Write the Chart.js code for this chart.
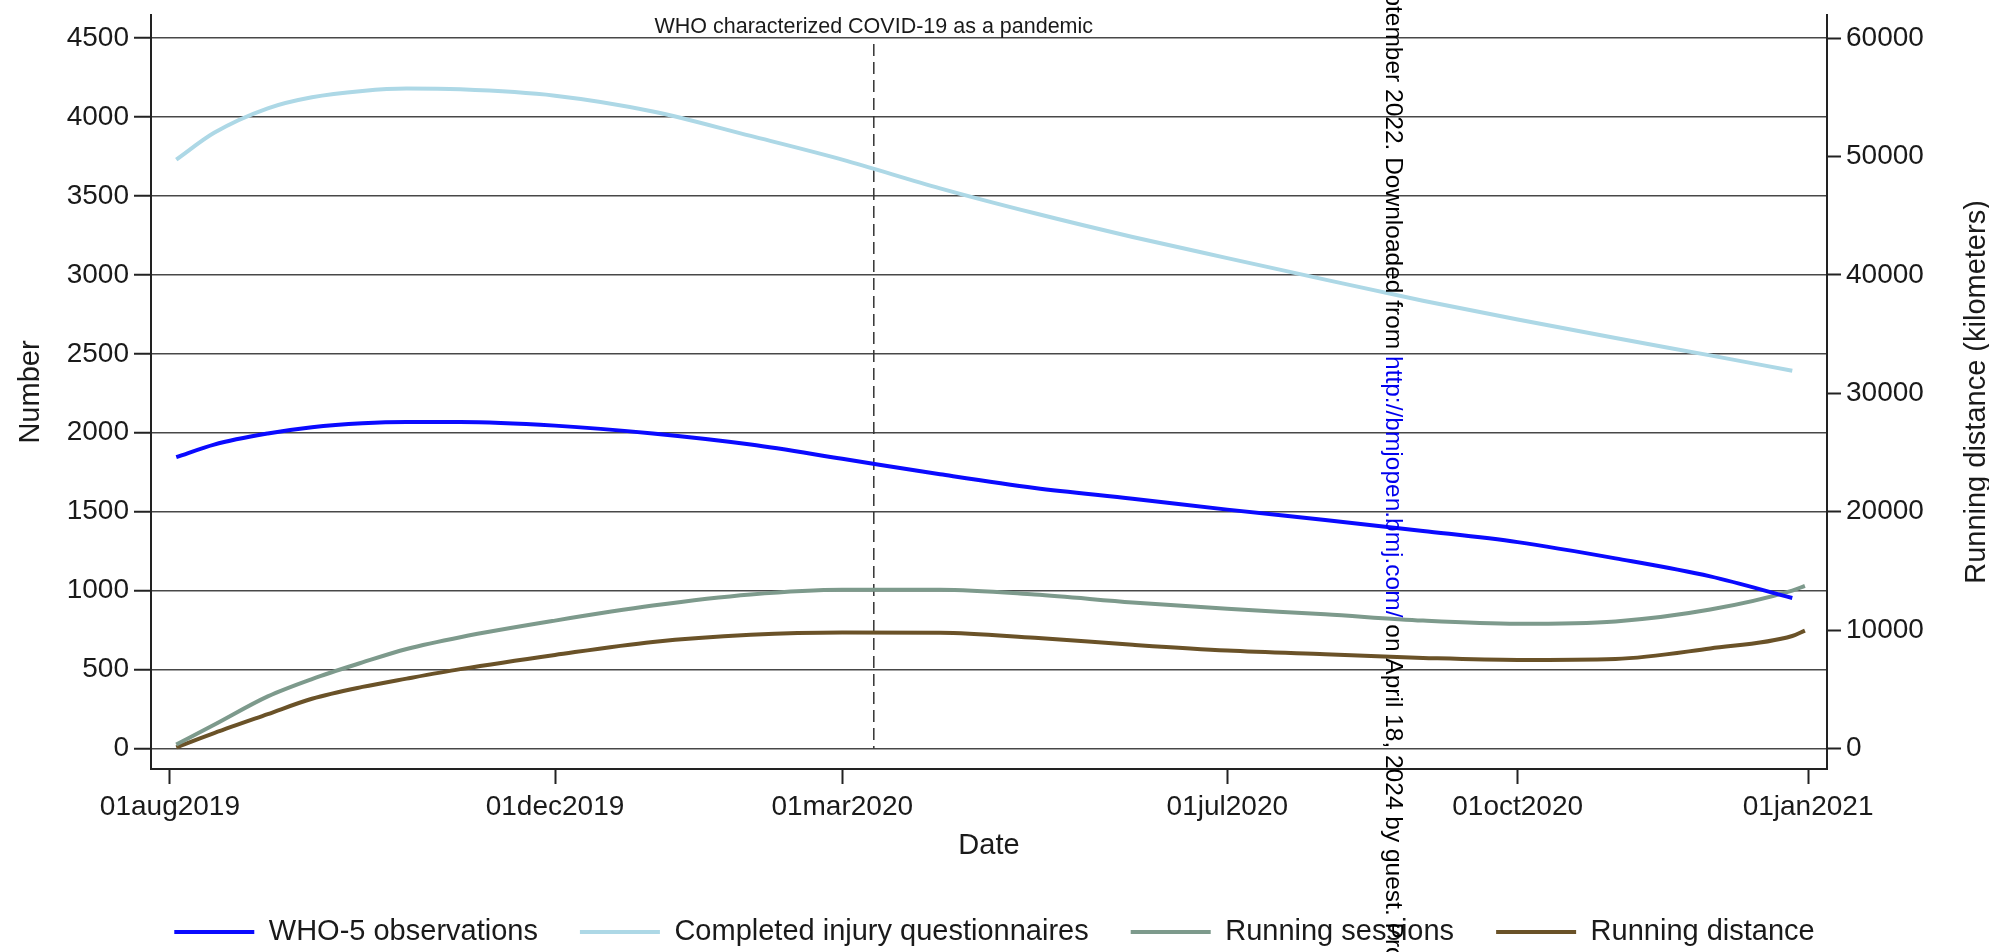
<!DOCTYPE html>
<html>
<head>
<meta charset="utf-8">
<title>WHO-5, injury questionnaires and running</title>
<script src="https://cdn.jsdelivr.net/npm/chart.js@4.4.1/dist/chart.umd.min.js"></script>
<style>
  html, body { margin: 0; padding: 0; background: #fff; }
  #wrap { width: 1989px; height: 952px; }
</style>
</head>
<body>
<div id="wrap"><canvas id="runChart" width="1989" height="952"></canvas></div>
<script>
// smoothed curves at these dates
var sampleDates = ['2019-08-03', '2019-08-15', '2019-09-01', '2019-09-15', '2019-10-01', '2019-10-15',
    '2019-11-01', '2019-12-01', '2020-01-01', '2020-02-01', '2020-03-01', '2020-04-01', '2020-05-01',
    '2020-06-01', '2020-07-01', '2020-08-01', '2020-09-01', '2020-10-01', '2020-11-01', '2020-12-01',
    '2020-12-27', '2020-12-31'];
var who5 = [1845, 1925, 1995, 2035, 2060, 2068, 2068, 2045, 1995, 1925, 1835, 1737, 1650, 1582,
    1513, 1447, 1378, 1307, 1204, 1090, 953, null];
var questionnaires = [3730, 3900, 4055, 4125, 4165, 4180, 4175, 4135, 4035, 3880, 3730, 3548, 3390,
    3240, 3106, 2970, 2836, 2717, 2600, 2490, 2393, null];
var sessions = [25, 150, 330, 440, 545, 630, 705, 810, 905, 975, 1005, 1005, 975, 925, 885, 850,
    810, 790, 805, 880, 1000, 1030];
var distanceKm = [100, 1300, 2900, 4200, 5200, 5900, 6700, 7900, 9000, 9600, 9800, 9780, 9350, 8760,
    8270, 7950, 7650, 7480, 7560, 8450, 9500, 9960];

var seriesLabels = ['WHO-5 observations', 'Completed injury questionnaires', 'Running sessions', 'Running distance'];

var leftTicks = [0, 500, 1000, 1500, 2000, 2500, 3000, 3500, 4000, 4500];
var rightTicks = [0, 10000, 20000, 30000, 40000, 50000, 60000];
var xTickDates = ['2019-08-01', '2019-12-01', '2020-03-01', '2020-07-01', '2020-10-01', '2021-01-01'];
var xTickLabels = ['01aug2019', '01dec2019', '01mar2020', '01jul2020', '01oct2020', '01jan2021'];
var xRange = ['2019-07-26', '2021-01-07'];
var leftRange = [-130, 4646];
var rightRange = [-1733, 61947];

var pandemicDate = '2020-03-11';
var pandemicLabel = 'WHO characterized COVID-19 as a pandemic';

var FAMILY = "'Liberation Sans', Arial, sans-serif";
var INK = '#1a1a1a';
var AXIS = '#222';

var origin = Date.UTC(2019, 7, 1);
function toDay(s) {
    var p = s.split('-');
    return (Date.UTC(+p[0], +p[1] - 1, +p[2]) - origin) / 864e5;
}
function points(values) {
    return values.map(function (v, i) { return { x: toDay(sampleDates[i]), y: v }; });
}

Chart.defaults.font.family = FAMILY;
Chart.defaults.color = INK;

var plotLeft = 151, plotRight = 1827, plotTop = 15, plotBottom = 769, padBottom = -4.5;

function noEdgePadding(s) {
    s.paddingTop = 0;
    s.paddingBottom = 0;
    s.paddingLeft = 0;
    s.paddingRight = 0;
}

var overlay = {
    id: 'overlay',
    beforeDatasetsDraw: function (chart) {
        var ctx = chart.ctx;
        var x = chart.scales.x.getPixelForValue(toDay(pandemicDate));
        var yl = chart.scales.yLeft;
        var yTop = yl.getPixelForValue(leftTicks[leftTicks.length - 1]);
        ctx.save();
        ctx.strokeStyle = '#333';
        ctx.lineWidth = 1.5;
        ctx.setLineDash([12, 6]);
        ctx.beginPath();
        ctx.moveTo(x, yTop + 6);
        ctx.lineTo(x, yl.getPixelForValue(0));
        ctx.stroke();
        ctx.setLineDash([]);
        ctx.font = '21.5px ' + FAMILY;
        ctx.fillStyle = INK;
        ctx.textAlign = 'center';
        ctx.textBaseline = 'alphabetic';
        ctx.fillText(pandemicLabel, x, yTop - 5);
        ctx.restore();
    },
    afterDraw: function (chart) {
        var ctx = chart.ctx, area = chart.chartArea;
        var midY = (area.top + area.bottom) / 2;
        ctx.save();
        ctx.fillStyle = INK;
        ctx.font = '29px ' + FAMILY;
        ctx.textAlign = 'center';
        ctx.textBaseline = 'middle';
        ctx.fillText('Date', (area.left + area.right) / 2, 846);

        ctx.save();
        ctx.translate(31, midY);
        ctx.rotate(-Math.PI / 2);
        ctx.fillText('Number', 0, 0);
        ctx.restore();

        ctx.save();
        ctx.translate(1977, midY);
        ctx.rotate(-Math.PI / 2);
        ctx.fillText('Running distance (kilometers)', 0, 0);
        ctx.restore();

        // journal download stamp running down the page
        ctx.save();
        ctx.translate(1393, 0);
        ctx.rotate(Math.PI / 2);
        ctx.font = '24.5px ' + FAMILY;
        ctx.textBaseline = 'middle';
        ctx.textAlign = 'right';
        ctx.fillStyle = '#000';
        ctx.fillText('September 2022. Downloaded from ', 356, 0);
        ctx.textAlign = 'left';
        ctx.fillStyle = '#0000ee';
        var link = 'http://bmjopen.bmj.com/';
        ctx.fillText(link, 356, 0);
        ctx.fillStyle = '#000';
        ctx.fillText(' on April 18, 2024 by guest. Protected by copyright.', 356 + ctx.measureText(link).width, 0);
        ctx.restore();
        ctx.restore();
    }
};

function lineSet(label, values, color, axis) {
    return {
        label: label,
        data: points(values),
        borderColor: color,
        backgroundColor: color,
        borderWidth: 4,
        pointRadius: 0,
        fill: false,
        cubicInterpolationMode: 'monotone',
        yAxisID: axis
    };
}

var ctx = document.getElementById('runChart').getContext('2d');
var runChart = new Chart(ctx, {
    type: 'line',
    data: {
        datasets: [
            lineSet(seriesLabels[0], who5, '#0a0aff', 'yLeft'),
            lineSet(seriesLabels[1], questionnaires, '#add8e6', 'yLeft'),
            lineSet(seriesLabels[2], sessions, '#7d9a8c', 'yLeft'),
            lineSet(seriesLabels[3], distanceKm, '#6a5228', 'yRight')
        ]
    },
    options: {
        responsive: false,
        animation: false,
        devicePixelRatio: 1,
        events: [],
        layout: { padding: { top: plotTop, left: 0, right: 0, bottom: padBottom } },
        plugins: {
            tooltip: { enabled: false },
            legend: {
                position: 'bottom',
                labels: {
                    boxWidth: 80,
                    boxHeight: 4,
                    padding: 42,
                    color: INK,
                    font: { size: 29 },
                    generateLabels: function (chart) {
                        return Chart.defaults.plugins.legend.labels.generateLabels(chart).map(function (item) {
                            item.fillStyle = item.strokeStyle;
                            item.lineWidth = 0;
                            return item;
                        });
                    }
                }
            }
        },
        scales: {
            x: {
                type: 'linear',
                min: toDay(xRange[0]),
                max: toDay(xRange[1]),
                afterBuildTicks: function (s) {
                    s.ticks = xTickDates.map(function (d) { return { value: toDay(d) }; });
                },
                afterFit: function (s) {
                    noEdgePadding(s);
                    s.height = s.chart.height - padBottom - s.chart.legend.height - plotBottom;
                },
                ticks: {
                    autoSkip: false,
                    maxRotation: 0,
                    padding: 6,
                    color: INK,
                    font: { size: 28 },
                    callback: function (v, i) { return xTickLabels[i]; }
                },
                grid: { drawOnChartArea: false, tickLength: 15, tickWidth: 2, tickColor: AXIS },
                border: { color: AXIS, width: 2 }
            },
            yLeft: {
                position: 'left',
                min: leftRange[0],
                max: leftRange[1],
                afterBuildTicks: function (s) {
                    s.ticks = leftTicks.map(function (v) { return { value: v }; });
                },
                afterFit: function (s) { noEdgePadding(s); s.width = plotLeft; },
                ticks: {
                    padding: 5,
                    color: INK,
                    font: { size: 28 },
                    callback: function (v) { return String(v); }
                },
                grid: { color: '#484848', lineWidth: 1.5, tickLength: 17, tickWidth: 2, tickColor: AXIS },
                border: { color: AXIS, width: 2 }
            },
            yRight: {
                position: 'right',
                min: rightRange[0],
                max: rightRange[1],
                afterBuildTicks: function (s) {
                    s.ticks = rightTicks.map(function (v) { return { value: v }; });
                },
                afterFit: function (s) { noEdgePadding(s); s.width = 1989 - plotRight; },
                ticks: {
                    padding: 5,
                    color: INK,
                    font: { size: 28 },
                    callback: function (v) { return String(v); }
                },
                grid: { drawOnChartArea: false, tickLength: 14, tickWidth: 2, tickColor: AXIS },
                border: { color: AXIS, width: 2 }
            }
        }
    },
    plugins: [overlay]
});
</script>
</body>
</html>
